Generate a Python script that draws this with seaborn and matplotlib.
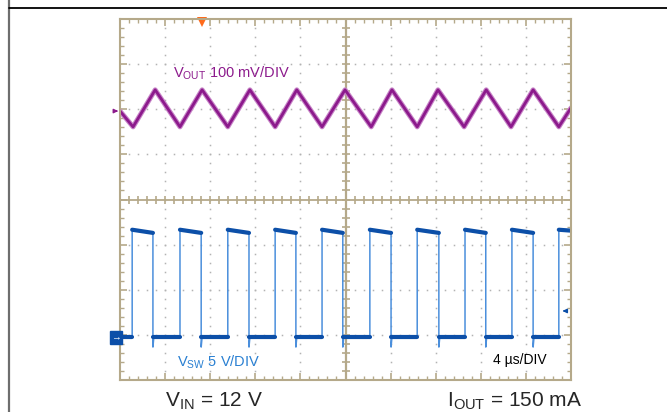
import numpy as np
import pandas as pd
import matplotlib
matplotlib.use('Agg')
import matplotlib.pyplot as plt
import seaborn as sns
from matplotlib.lines import Line2D
from matplotlib.ticker import MultipleLocator

# scope screen in divisions: 10 across, 8 up
# Vout ripple (100 mV/DIV), vertices of the triangle
vout_x = [0, 0.29, 0.78, 1.33, 1.82, 2.39, 2.88, 3.44, 3.92, 4.48, 4.99,
          5.57, 6.03, 6.59, 7.05, 7.63, 8.12, 8.67, 9.16, 9.73, 10.0]
vout_y = [5.96, 5.61, 6.43, 5.61, 6.43, 5.61, 6.43, 5.61, 6.43, 5.61, 6.43,
          5.61, 6.43, 5.61, 6.43, 5.61, 6.43, 5.61, 6.43, 5.61, 6.03]

# switch node (5 V/DIV)
rise_x = [0.27, 1.33, 2.39, 3.44, 4.48, 5.54, 6.59, 7.65, 8.69, 9.73]
fall_x = [0.73, 1.80, 2.86, 3.90, 4.94, 6.01, 7.07, 8.11, 9.16]
high_start = 3.33
high_end = 3.26
low_level = 0.95
fall_dip = 0.73

tan = '#b5a98a'
purple = '#8c1a8c'
blue_dark = '#0c4fa8'
blue_light = '#4b8fdc'

# build switch trace
sw_x, sw_y = [0], [low_level]
for i, r in enumerate(rise_x):
    sw_x += [r, r]
    sw_y += [low_level, high_start]
    if i < len(fall_x):
        f = fall_x[i]
        sw_x += [f, f, f + 0.02]
        sw_y += [high_end, fall_dip, low_level]
    else:
        sw_x.append(10.0)
        sw_y.append(3.31)
sw = pd.DataFrame({'x': sw_x, 'y': sw_y})

# flat parts drawn thicker like the scope persistence
seg_rows = []
starts = [0] + fall_x
ends = rise_x
for k, (a, b) in enumerate(zip(starts, ends)):
    seg_rows += [(a, low_level, k), (b, low_level, k)]
for k, r in enumerate(rise_x):
    if k < len(fall_x):
        seg_rows += [(r, high_start, 100 + k), (fall_x[k], high_end, 100 + k)]
    else:
        seg_rows += [(r, high_start, 100 + k), (10.0, 3.31, 100 + k)]
flat = pd.DataFrame(seg_rows, columns=['x', 'y', 'seg'])

vout = pd.DataFrame({'x': vout_x, 'y': vout_y})

sns.set_style('white')
plt.rcParams['font.family'] = ['Liberation Sans', 'DejaVu Sans']
plt.rcParams['mathtext.fontset'] = 'custom'
plt.rcParams['mathtext.rm'] = 'Liberation Sans'

fig = plt.figure(figsize=(6.67, 4.12), dpi=100)
ax = fig.add_axes([120 / 667, 32 / 412, 451 / 667, 361 / 412])
ax.set_xlim(0, 10)
ax.set_ylim(0, 8)

# dotted graticule
for gx in [1, 2, 3, 4, 6, 7, 8, 9]:
    ys = np.arange(0.2, 8, 0.2)
    ax.plot([gx] * len(ys), ys, ls='', marker='s', ms=1.1, color='#b3b3b3', mew=0)
for gy in [1, 2, 3, 5, 6, 7]:
    xs = np.arange(0.2, 10, 0.2)
    ax.plot(xs, [gy] * len(xs), ls='', marker='s', ms=1.1, color='#b3b3b3', mew=0)

# centre cross with ticks
ax.axhline(4, color=tan, lw=1.3)
ax.axvline(5, color=tan, lw=1.6)
cx = np.arange(0.2, 10, 0.2)
cy = np.arange(0.2, 8, 0.2)
ax.plot(cx, [4] * len(cx), ls='', marker='|', ms=6, mew=1.2, color=tan)
ax.plot([5] * len(cy), cy, ls='', marker='_', ms=6, mew=1.2, color=tan)

# traces
sns.lineplot(data=vout, x='x', y='y', sort=False, estimator=None, color='#c886c8',
             lw=3.6, ax=ax)
sns.lineplot(data=vout, x='x', y='y', sort=False, estimator=None, color=purple,
             lw=2.0, ax=ax)
sns.lineplot(data=sw, x='x', y='y', sort=False, estimator=None, color=blue_light,
             lw=1.1, ax=ax)
sns.lineplot(data=flat, x='x', y='y', units='seg', sort=False, estimator=None,
             color=blue_dark, lw=3.0, ax=ax)

# frame and ticks
for s in ax.spines.values():
    s.set_color(tan)
    s.set_linewidth(1.5)
ax.xaxis.set_major_locator(MultipleLocator(1))
ax.yaxis.set_major_locator(MultipleLocator(1))
ax.xaxis.set_minor_locator(MultipleLocator(0.2))
ax.yaxis.set_minor_locator(MultipleLocator(0.2))
ax.tick_params(which='both', direction='in', top=True, right=True, bottom=True, left=True,
               color=tan, labelbottom=False, labelleft=False)
ax.tick_params(which='major', length=5, width=1.2)
ax.tick_params(which='minor', length=3, width=1.0)
ax.set_xlabel('')
ax.set_ylabel('')

# channel markers
ax.annotate('', xy=(0.02, 5.96), xytext=(-0.16, 5.96),
            arrowprops=dict(arrowstyle='-|>', color=purple, lw=1, mutation_scale=6),
            annotation_clip=False)
ax.text(-0.09, low_level, '→', color='white', fontsize=7, ha='center', va='center',
        fontweight='bold', clip_on=False,
        bbox=dict(boxstyle='square,pad=0.15', fc=blue_dark, ec=blue_dark))
ax.annotate('', xy=(9.75, 1.53), xytext=(9.94, 1.53),
            arrowprops=dict(arrowstyle='-|>', color=blue_dark, lw=1, mutation_scale=6),
            annotation_clip=False)
ax.plot([1.82], [7.93], marker='v', ms=7, color='#ff6a1a', mew=0, clip_on=False)

# labels
ax.text(1.18, 6.80, r'V$_\mathregular{OUT}$ 100 mV/DIV', color=purple, fontsize=10.5,
        va='center')
ax.text(1.27, 0.4, r'V$_\mathregular{SW}$ 5 V/DIV', color='#2a80d2', fontsize=10.5,
        va='center')
ax.text(8.27, 0.44, '4 µs/DIV', color='black', fontsize=10, va='center')

fig.text(165 / 667, 6 / 412, r'V$_\mathregular{IN}$ = 12 V', fontsize=15, va='baseline')
fig.text(447 / 667, 6 / 412, r'I$_\mathregular{OUT}$ = 150 mA', fontsize=15, va='baseline')

# page border lines
fig.add_artist(Line2D([9 / 667, 9 / 667], [0, 1], color='#6e6e6e', lw=1.6))
fig.add_artist(Line2D([9 / 667, 1], [1 - 8 / 412, 1 - 8 / 412], color='black', lw=1.3))

fig.savefig('out.png', dpi=100)
